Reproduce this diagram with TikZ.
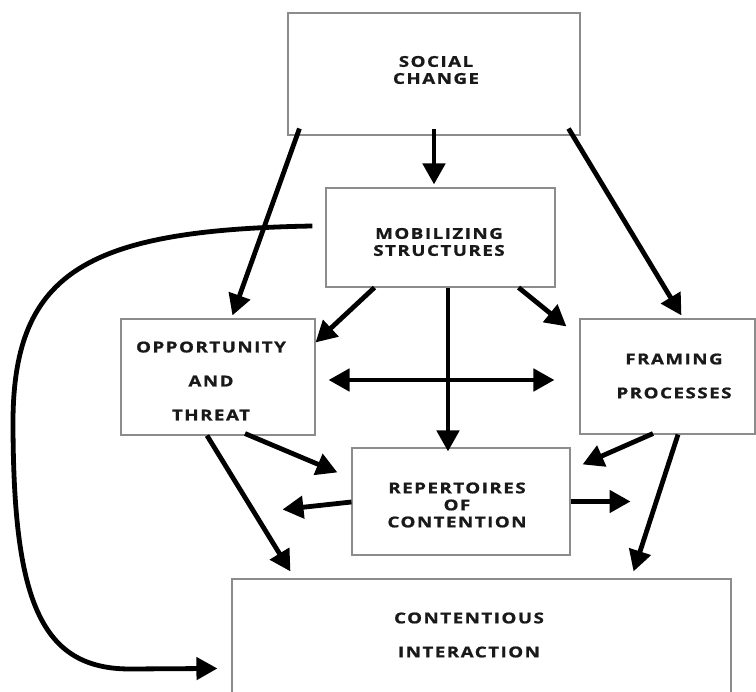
\documentclass[tikz,border=0pt]{standalone}
\usepackage{fontspec}
\newfontfamily\lblfont{Open Sans}[LetterSpace=10, FakeStretch=1.25, FakeBold=1]
\usetikzlibrary{arrows.meta,calc}
\begin{document}
\begin{tikzpicture}[x=1pt,y=-1pt,
  box/.style={draw=black!45, line width=1.1pt, inner sep=0pt},
  lbl/.style={inner sep=0pt, align=center, text=black!90, font=\lblfont\bfseries\fontsize{15}{17}\selectfont},
  arr/.style={line width=4.8pt, -{Triangle[length=21pt,width=22pt]}, black}]
\useasboundingbox (0,0) rectangle (756,692);
% boxes
\node[box, minimum width=292pt, minimum height=122pt] (soc) at (434,74) {};
\node[box, minimum width=229pt, minimum height=99pt] (mob) at (440.5,237.5) {};
\node[box, minimum width=194pt, minimum height=116pt] (opp) at (218,377) {};
\node[box, minimum width=175pt, minimum height=115pt] (fra) at (667.5,376.5) {};
\node[box, minimum width=218pt, minimum height=107pt] (rep) at (461,501.5) {};
\node[box, minimum width=499pt, minimum height=130pt] (con) at (481.5,644) {};
% labels
\node[lbl] (soct) at (436,70) {SOCIAL\\CHANGE};
\node[lbl] (mobt) at (439,242) {MOBILIZING\\STRUCTURES};
\node[lbl] (oppt) at (211,381) {OPPORTUNITY\\[17pt]AND\\[17pt]THREAT};
\node[lbl] (frat) at (674,376) {FRAMING\\[17pt]PROCESSES};
\node[lbl] (rept) at (457,505) {REPERTOIRES\\OF\\CONTENTION};
\node[lbl] (cont) at (469,635) {CONTENTIOUS\\[17pt]INTERACTION};
% free ends
\coordinate (repL) at ($(rep.west)+(-69,8)$);
\coordinate (repR) at ($(rep.east)+(60,0)$);
% arrows
\draw[arr] ($(soc.south)+(0,-7)$) -- ($(soc.south |- mob.north)+(0,-3)$);
\draw[arr] ($(soc.south west)+(12,-7)$) -- ($(opp.north west)+(112,-3)$);
\draw[arr] ($(soc.south east)+(-12,-7)$) -- ($(fra.north west)+(102,-3)$);
\draw[arr] ($(mob.south west)+(49,0)$) -- ($(opp.north east)+(0,24)$);
\draw[arr] ($(mob.south east)+(-37,0)$) -- ($(fra.north west)+(-13,8)$);
\coordinate (mr) at ($(mob.south)+(7.5,0)$);
\draw[arr] (mr) -- ($(mr |- rep.north)+(0,4)$);
\draw[arr, {Triangle[length=21pt,width=22pt]}-{Triangle[length=21pt,width=22pt]}] ($(opp.east)+(13,3)$) -- ($(opp.east -| fra.west)+(-25,3)$);
\draw[arr] ($(opp.south)+(27,-2)$) -- ($(rep.north west)+(-14,25)$);
\draw[arr] ($(opp.south)+(-11,0)$) -- ($(con.north west)+(59,-7)$);
\draw[arr] ($(rep.west)+(0,0.5)$) -- (repL);
\draw[arr] (rep.east) -- (repR);
\draw[arr] ($(fra.south)+(-14.5,-1)$) -- ($(rep.north east)+(12,17)$);
\draw[arr] ($(fra.south)+(10.5,0)$) -- ($(con.north east)+(-98,-7)$);
\draw[arr] ($(mob.west)+(-13,-11.5)$) .. controls (90,230) and (14,270) .. (13,420)
  .. controls (13,600) and (40,669) .. (130,669) -- ($(con.north west)+(-14,90)$);
\end{tikzpicture}
\end{document}
